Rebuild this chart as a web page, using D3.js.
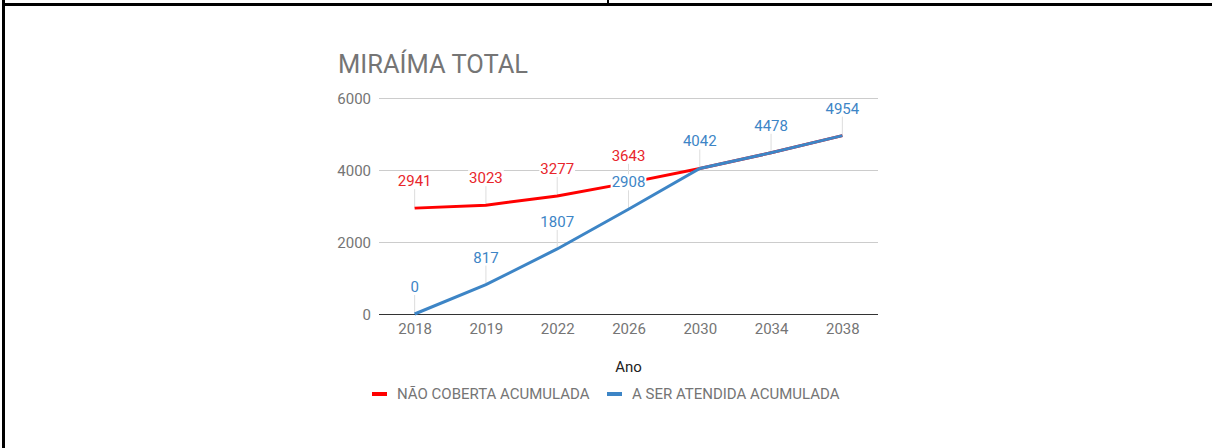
<!DOCTYPE html>
<html>
<head>
<meta charset="utf-8">
<script src="https://cdn.jsdelivr.net/npm/d3@7"></script>
<style>
  html, body { margin: 0; padding: 0; background: #fff; }
  svg { display: block; font-family: Roboto, "Noto Sans", sans-serif; }
</style>
</head>
<body>
<svg id="chart" width="1212" height="448"></svg>
<script>
// Years on the category axis
const years = ["2018", "2019", "2022", "2026", "2030", "2034", "2038"];
// Accumulated uncovered demand
const naoCoberta = [2941, 3023, 3277, 3643, 4042, 4478, 4954];
// Accumulated demand to be served
const aSerAtendida = [0, 817, 1807, 2908, 4042, 4478, 4954];
// Y axis ticks
const yTicks = [0, 2000, 4000, 6000];

const seriesNames = ["NÃO COBERTA ACUMULADA", "A SER ATENDIDA ACUMULADA"];
const colors = { red: "#ff0000", redLabel: "#e8262b", blue: "#3d85c6" };

const svg = d3.select("#chart");

// Table-cell borders around the chart
svg.append("rect").attr("x", 2).attr("y", 0).attr("width", 3).attr("height", 448).attr("fill", "#000");
svg.append("rect").attr("x", 2).attr("y", 3).attr("width", 1210).attr("height", 3).attr("fill", "#000");
svg.append("rect").attr("x", 607).attr("y", 0).attr("width", 2).attr("height", 4).attr("fill", "#000");

const plot = { left: 379, right: 878, top: 98, bottom: 314 };

const x = d3.scalePoint().domain(years).range([plot.left, plot.right]).padding(0.5);
const y = d3.scaleLinear().domain([0, 6000]).range([plot.bottom, plot.top]);

// Title
svg.append("text")
  .attr("x", 338).attr("y", 73)
  .attr("font-size", 25.5).attr("fill", "#757575")
  .text("MIRAÍMA TOTAL");

// Gridlines and y labels
const yAxis = d3.axisLeft(y).tickValues(yTicks).tickFormat(d3.format("d"))
  .tickSize(-(plot.right - plot.left)).tickPadding(8);
const gy = svg.append("g").attr("transform", `translate(${plot.left},0)`).call(yAxis);
gy.select(".domain").remove();
gy.selectAll(".tick line").attr("stroke", d => d === 0 ? "#333" : "#ccc").attr("stroke-width", 1);
gy.selectAll(".tick text").attr("font-size", 15).attr("fill", "#757575")
  .attr("font-family", "Roboto, sans-serif").attr("dy", "0.35em");

// X labels
const xAxis = d3.axisBottom(x).tickSize(0).tickPadding(9);
const gx = svg.append("g").attr("transform", `translate(0,${plot.bottom})`).call(xAxis);
gx.select(".domain").remove();
gx.selectAll(".tick text").attr("font-size", 15).attr("fill", "#757575")
  .attr("font-family", "Roboto, sans-serif").attr("dy", "0.71em");

// Axis title
svg.append("text")
  .attr("x", (plot.left + plot.right) / 2).attr("y", 372)
  .attr("text-anchor", "middle").attr("font-size", 15).attr("fill", "#222")
  .text("Ano");

const line = d3.line()
  .x((d, i) => x(years[i]))
  .y(d => y(d));

// Red labels are shown only where the two series differ
const redShown = d => naoCoberta[d.i] !== aSerAtendida[d.i];
const blueShown = () => true;

// Annotation stems (drawn under the lines)
function stems(values, show) {
  svg.append("g").selectAll("line")
    .data(values.map((v, i) => ({ v, i })).filter(d => show(d)))
    .join("line")
    .attr("x1", d => x(years[d.i])).attr("x2", d => x(years[d.i]))
    .attr("y1", d => y(d.v)).attr("y2", d => y(d.v) - 20)
    .attr("stroke", "#ddd").attr("stroke-width", 1);
}
stems(naoCoberta, redShown);
stems(aSerAtendida, blueShown);

svg.append("path").datum(naoCoberta)
  .attr("d", line).attr("fill", "none")
  .attr("stroke", colors.red).attr("stroke-width", 3);
svg.append("path").datum(aSerAtendida)
  .attr("d", line).attr("fill", "none")
  .attr("stroke", colors.blue).attr("stroke-width", 3);

// Value annotations with a white backing box
function labels(values, show, color) {
  const g = svg.append("g").selectAll("g")
    .data(values.map((v, i) => ({ v, i })).filter(d => show(d)))
    .join("g")
    .attr("transform", d => `translate(${x(years[d.i])},${y(d.v) - 22})`);
  const t = g.append("text")
    .attr("text-anchor", "middle").attr("font-size", 15)
    .attr("fill", color)
    .text(d => d.v);
  g.each(function () {
    const bb = d3.select(this).select("text").node().getBBox();
    d3.select(this).insert("rect", "text")
      .attr("x", bb.x - 1).attr("y", bb.y + 1)
      .attr("width", bb.width + 2).attr("height", bb.height - 2)
      .attr("fill", "#fff");
  });
}
labels(naoCoberta, redShown, colors.redLabel);
labels(aSerAtendida, blueShown, colors.blue);

// Legend
const legend = [
  { name: seriesNames[0], color: colors.red, x: 372 },
  { name: seriesNames[1], color: colors.blue, x: 607 }
];
const lg = svg.append("g").selectAll("g").data(legend).join("g")
  .attr("transform", d => `translate(${d.x},394)`);
lg.append("rect").attr("x", 0).attr("y", -2).attr("width", 15).attr("height", 4)
  .attr("fill", d => d.color);
lg.append("text").attr("x", 25).attr("y", 0).attr("dy", "0.35em")
  .attr("font-size", 15).attr("fill", "#757575")
  .text(d => d.name);
</script>
</body>
</html>
